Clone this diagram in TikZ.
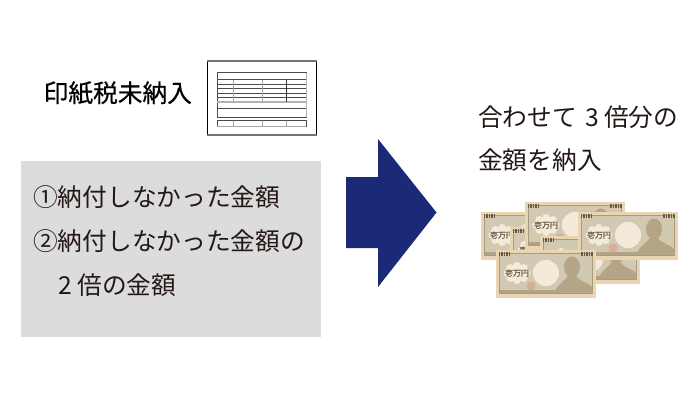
\documentclass[tikz,border=0pt]{standalone}
\usepackage{fontspec}
\setmainfont{Noto Sans CJK JP}
\newfontfamily\cjkbold{Noto Sans CJK JP}[FakeBold=0.6]
\definecolor{arrowblue}{HTML}{1B2A77}
\definecolor{panelgrey}{HTML}{DCDCDC}
\definecolor{textgrey}{HTML}{231815}
\definecolor{billedge}{HTML}{EAD5B2}
\definecolor{billframe}{HTML}{A89A7C}
\definecolor{billface}{HTML}{D2C9B2}
\definecolor{billcloud}{HTML}{F3EADA}
\definecolor{billpink}{HTML}{D6AE96}
\definecolor{billshadow}{HTML}{B3A586}
\definecolor{billink}{HTML}{6A5A45}
\tikzset{
  label text/.style={anchor=west,inner sep=0pt,text=textgrey,font=\fontsize{24.7}{24.7}\selectfont},
  form thin/.style={draw=black!70,line width=0.55pt},
  form grey/.style={draw=black!35,line width=1pt},
  pics/banknote/.style={code={
    \fill[billedge] (0,0) rectangle (100,48);
    \fill[billface,draw=billframe,line width=1pt] (3.5,3.5) rectangle (96.5,43);
    \fill[billframe!80!billface] (3.5,40) rectangle (96.5,43);
    \begin{scope}
      \clip (4,4) rectangle (96,42.5);
      \fill[billshadow] (76,17) ellipse (8 and 10.5);
      \fill[billshadow] (56,48) .. controls (60,34) and (68,32) .. (72,26) -- (80,26) .. controls (84,32) and (94,33) .. (97,38) -- (97,48) -- cycle;
    \end{scope}
    \fill[billcloud,draw=billframe!60,line width=0.4pt] (50,23) circle (13.5);
    \fill[billpink] (35,36) circle (4.5);
    \fill[billcloud] (21,23) ellipse (10 and 8);
    \foreach \a in {0,45,...,315}{\fill[billcloud] ($(21,23)+(\a:9.5 and 7)$) circle (4);}
    \node[text=billink,inner sep=0pt,font=\cjkbold\fontsize{8}{8}\selectfont] at (21,23) {壱万円};
    \foreach \x in {2.5,5,7.5,10,12.5,85,87.5,90,92.5,95}{\fill[billink] (\x,1.8) rectangle (\x+1.5,6.2);}
  }}
}
\usetikzlibrary{calc}
\begin{document}
\begin{tikzpicture}[x=1pt,y=-1pt]
\useasboundingbox (0,0) rectangle (700,400);
% form icon
\draw[black,line width=0.8pt,fill=white] (207.5,61) rectangle (316,135);
\draw[black!55,line width=1.4pt] (207,61) -- (316.5,61);
\draw[black!55,line width=1.4pt] (207,135) -- (316.5,135);
\draw[form thin] (217,72.5) rectangle (306,117);
\foreach \y in {79.5,84,88.5,93,97.5,108}{\draw[form thin] (217,\y) -- (306,\y);}
\draw[black!30,line width=1.4pt] (217,102) -- (306,102);
\foreach \x/\c in {233/35,262/35,286/80}{\draw[draw=black!\c,line width=1pt] (\x,79.5) -- (\x,102);}
\draw[black!30,line width=1pt] (306.5,72.5) -- (306.5,117);
\draw[form thin] (217,120.5) rectangle (306,126);
\draw[black!35,line width=1pt] (217,126) -- (306,126);
\foreach \x in {233,262,286}{\draw[form grey] (\x,120.5) -- (\x,126);}
% title
\node[label text,text=black,font=\cjkbold\fontsize{24.7}{24.7}\selectfont] (title) at (43.5,93) {印紙税未納入};
% panel
\fill[panelgrey] (21,161) rectangle (321,337);
\node[label text] (lineone) at (33,197) {①納付しなかった金額};
\node[label text] (linetwo) at (33,241) {②納付しなかった金額の};
\node[label text] (linethree) at (58,285) {2 倍の金額};
% arrow
\fill[arrowblue] (346,177) -- (378,177) -- (378,139) -- (436.5,212.5) -- (378,287) -- (378,248) -- (346,248) -- cycle;
% right text
\node[label text] (resultone) at (478,117) {合わせて\hspace{0.1em} 3 倍分の};
\node[label text] (resulttwo) at (478,160) {金額を納入};
% banknotes
\pic at (481,212) {banknote};
\pic at (510,227) {banknote};
\pic at (525,202) {banknote};
\pic at (540,236) {banknote};
\pic at (578,212) {banknote};
\pic at (496,250) {banknote};
\end{tikzpicture}
\end{document}
